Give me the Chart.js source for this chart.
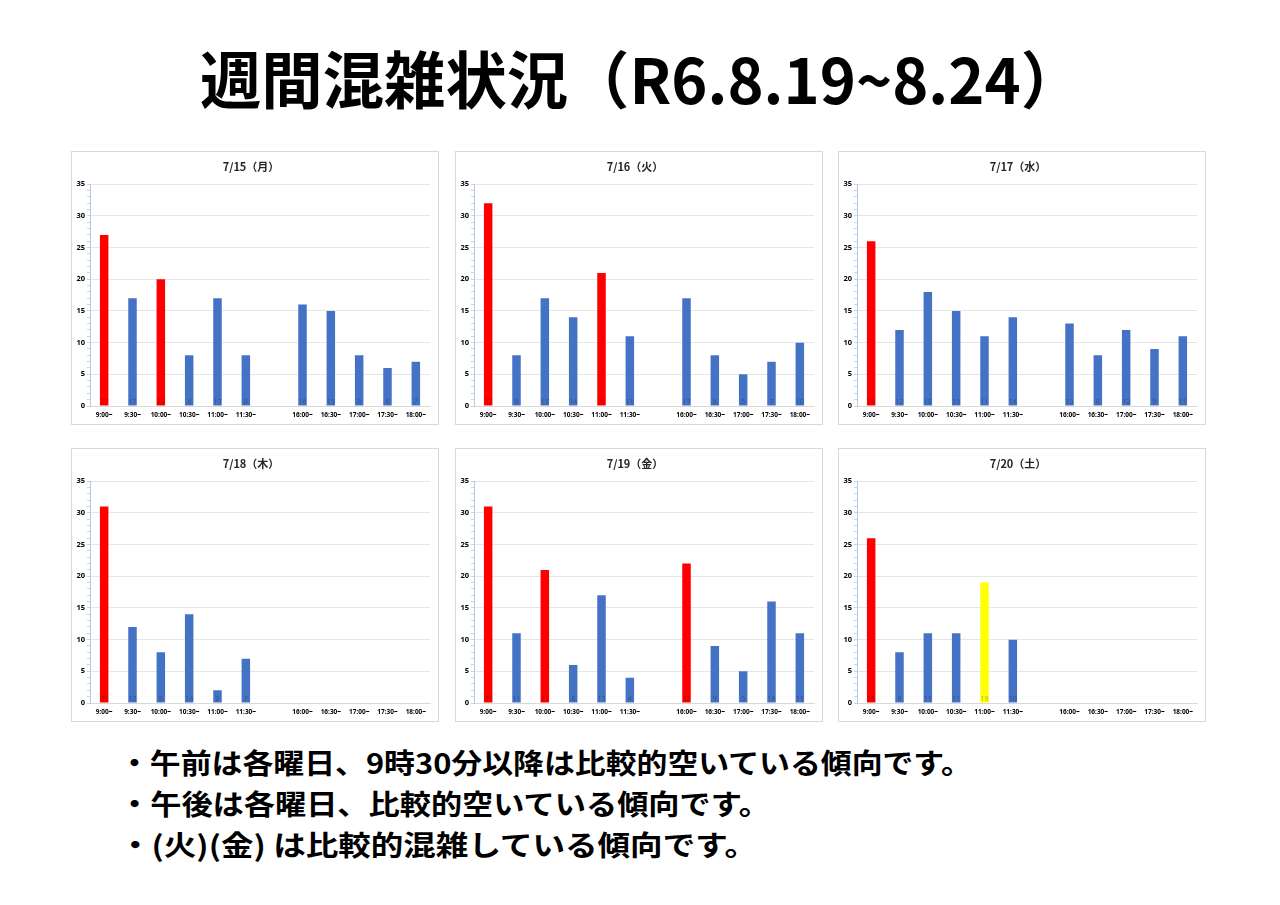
<!DOCTYPE html>
<html lang="ja">
<head>
<meta charset="utf-8">
<script src="https://cdn.jsdelivr.net/npm/chart.js@4.4.1/dist/chart.umd.min.js"></script>
<style>
  html, body { margin: 0; padding: 0; background: #fff; }
  body { width: 1280px; height: 905px; position: relative; overflow: hidden;
         font-family: "Noto Sans CJK JP", "Noto Sans", sans-serif; }
  .title { position: absolute; left: 200px; top: 40px; font-size: 62px; font-weight: 700;
           white-space: nowrap; transform-origin: 0 0; color: #000; line-height: 1.2; display: inline-block; }
  .panel { position: absolute; width: 366px; height: 272px; border: 1px solid #d9d9d9; background: #fff; }
  .panel canvas { display: block; }
  .note { position: absolute; left: 119px; font-size: 28px; font-weight: 700; white-space: nowrap;
          transform-origin: 0 0; color: #000; line-height: 1.2; display: inline-block; }
</style>
</head>
<body>
<div class="title" id="title">週間混雑状況（R6.8.19~8.24）</div>

<div class="panel" style="left:71px;top:151px"><canvas id="c0" width="366" height="272"></canvas></div>
<div class="panel" style="left:455px;top:151px"><canvas id="c1" width="366" height="272"></canvas></div>
<div class="panel" style="left:838px;top:151px"><canvas id="c2" width="366" height="272"></canvas></div>
<div class="panel" style="left:71px;top:448px"><canvas id="c3" width="366" height="272"></canvas></div>
<div class="panel" style="left:455px;top:448px"><canvas id="c4" width="366" height="272"></canvas></div>
<div class="panel" style="left:838px;top:448px"><canvas id="c5" width="366" height="272"></canvas></div>

<div class="note" id="n0" style="top:746px">・午前は各曜日、9時30分以降は比較的空いている傾向です。</div>
<div class="note" id="n1" style="top:787px">・午後は各曜日、比較的空いている傾向です。</div>
<div class="note" id="n2" style="top:828px">・(火)(金) は比較的混雑している傾向です。</div>

<script>
// time slots (blank slot = lunch break)
const slots = ['9:00~', '9:30~', '10:00~', '10:30~', '11:00~', '11:30~', '', '16:00~', '16:30~', '17:00~', '17:30~', '18:00~'];
const dayTitles = ['7/15（月）', '7/16（火）', '7/17（水）', '7/18（木）', '7/19（金）', '7/20（土）'];

// visitors per slot
const mon = [27, 17, 20, 8, 17, 8, null, 16, 15, 8, 6, 7];
const tue = [32, 8, 17, 14, 21, 11, null, 17, 8, 5, 7, 10];
const wed = [26, 12, 18, 15, 11, 14, null, 13, 8, 12, 9, 11];
const thu = [31, 12, 8, 14, 2, 7, null, null, null, null, null, null];
const fri = [31, 11, 21, 6, 17, 4, null, 22, 9, 5, 16, 11];
const sat = [26, 8, 11, 11, 19, 10, null, null, null, null, null, null];

// highlighted slots (crowded = red, caution = yellow)
const monBusy = [0, 2];
const tueBusy = [0, 4];
const wedBusy = [0];
const thuBusy = [0];
const friBusy = [0, 2, 7];
const satBusy = [0];
const satWarn = [4];

const yTicks = [0, 5, 10, 15, 20, 25, 30, 35];

const days = [
  { data: mon, busy: monBusy, warn: [] },
  { data: tue, busy: tueBusy, warn: [] },
  { data: wed, busy: wedBusy, warn: [] },
  { data: thu, busy: thuBusy, warn: [] },
  { data: fri, busy: friBusy, warn: [] },
  { data: sat, busy: satBusy, warn: satWarn }
];

// value written at the foot of each bar, slightly darker than the bar
const footLabels = {
  id: 'footLabels',
  afterDatasetsDraw(chart) {
    const ctx = chart.ctx;
    const meta = chart.getDatasetMeta(0);
    ctx.save();
    ctx.font = '7px "Noto Sans", sans-serif';
    ctx.textAlign = 'center';
    ctx.textBaseline = 'bottom';
    ctx.fillStyle = 'rgba(0,0,0,0.28)';
    meta.data.forEach((bar, i) => {
      const v = chart.data.datasets[0].data[i];
      if (v == null) return;
      ctx.fillText(String(v), bar.x, chart.chartArea.bottom - 1);
    });
    ctx.restore();
  }
};

days.forEach((d, k) => {
  const colors = d.data.map((v, i) =>
    d.busy.includes(i) ? '#ff0000' : d.warn.includes(i) ? '#ffff00' : '#4472c4');
  new Chart(document.getElementById('c' + k), {
    type: 'bar',
    data: {
      labels: slots,
      datasets: [{
        data: d.data,
        backgroundColor: colors,
        barPercentage: 0.3,
        categoryPercentage: 1
      }]
    },
    options: {
      responsive: false,
      animation: false,
      layout: { padding: { top: 3, right: 8, bottom: 0, left: 0 } },
      plugins: {
        legend: { display: false },
        tooltip: { enabled: false },
        title: {
          display: true,
          text: dayTitles[k],
          color: '#262626',
          font: { size: 11, weight: 'bold', family: '"Noto Sans CJK JP", sans-serif' },
          padding: { top: 5, bottom: 11 }
        }
      },
      scales: {
        x: {
          grid: { display: false, drawTicks: false },
          border: { color: '#d9d9d9' },
          ticks: {
            color: '#000',
            font: { size: 6.5, weight: 'bold', family: '"Noto Sans", sans-serif' },
            padding: 5,
            maxRotation: 0,
            autoSkip: false
          },
          afterFit(scale) { scale.height = 18; }
        },
        y: {
          min: 0,
          max: 35,
          grid: {
            color: c => (c.tick && c.tick.value % 5 === 0) ? '#e6e6e6' : 'rgba(0,0,0,0)',
            tickColor: '#c9d5ea',
            tickLength: 3
          },
          border: { color: '#b4c7e7' },
          ticks: {
            stepSize: 1,
            autoSkip: false,
            color: '#000',
            padding: 2,
            font: { size: 7.5, weight: 'bold', family: '"Noto Sans", sans-serif' },
            callback: v => yTicks.includes(v) ? v : ''
          },
          afterFit(scale) { scale.width = 18; }
        }
      }
    },
    plugins: [footLabels]
  });
});

// squeeze the headings to the condensed widths of the slide
function fit(id, w) {
  const el = document.getElementById(id);
  el.style.transform = 'none';
  el.style.transform = 'scaleX(' + (w / el.getBoundingClientRect().width) + ')';
}
function fitAll() {
  fit('title', 882);
  fit('n0', 853);
  fit('n1', 651);
  fit('n2', 638);
}
fitAll();
document.fonts.ready.then(fitAll);
</script>
</body>
</html>
